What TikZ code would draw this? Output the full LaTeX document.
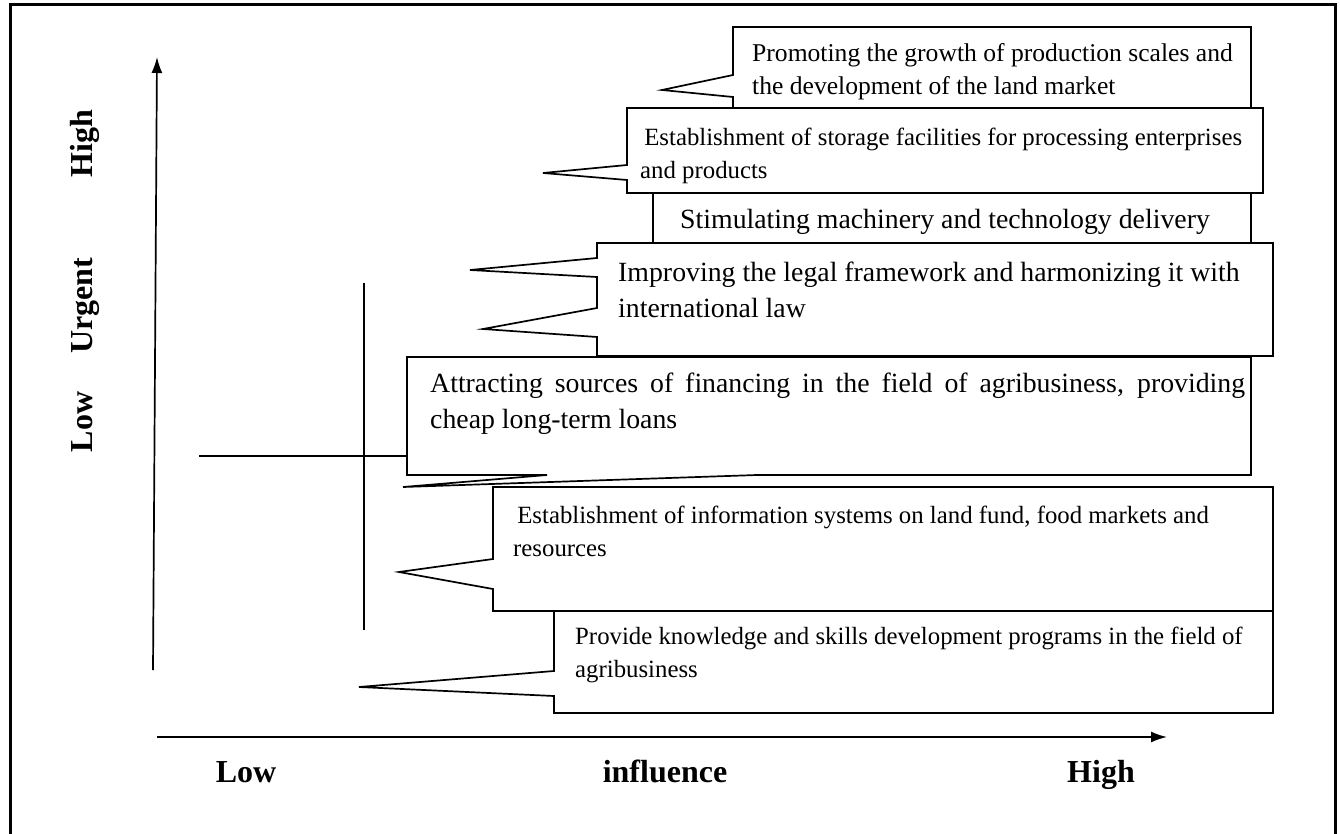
\documentclass[tikz,border=0pt]{standalone}
\usepackage{fontspec}
\setmainfont{Liberation Serif}
\usetikzlibrary{arrows.meta}
\begin{document}
\begin{tikzpicture}[x=1pt,y=-1pt,
  callbox/.style={draw=black, line width=1.7pt, fill=white, line join=miter},
  smalltext/.style={font=\fontsize{24.8}{33}\selectfont, anchor=west, inner sep=0pt, align=left},
  largetext/.style={font=\fontsize{27.8}{36}\selectfont, anchor=west, inner sep=0pt, align=left},
  axislabel/.style={font=\bfseries\fontsize{32}{36}\selectfont, inner sep=0pt, anchor=base},
  axisline/.style={line width=1.7pt, -{Latex[length=16pt,width=11pt]}},
  plainline/.style={line width=1.5pt},
  frameline/.style={line width=3pt}]
\useasboundingbox (0,0) rectangle (1340,834);
% outer frame
\draw[frameline] (10,834) -- (10,5) -- (1335,5) -- (1335,834);

% axes
\coordinate (vstart) at (153,670);
\coordinate (vend) at (157,57);
\coordinate (hstart) at (157,737);
\coordinate (hend) at (1167,737);
\draw[axisline] (vstart) -- (vend);
\draw[axisline] (hstart) -- (hend);

% cross lines
\coordinate (crossTop) at (364,283);
\coordinate (crossBot) at (364,630);
\coordinate (crossLeft) at (199,456);
\coordinate (crossRight) at (407,456);
\draw[plainline] (crossTop) -- (crossBot);
\draw[plainline] (crossLeft) -- (crossRight);

% box 1
\draw[callbox] (733,27) -- (1251,27) -- (1251,150) -- (733,150) -- (733,97) -- (662,90) -- (733,75) -- cycle;
% box 3
\draw[callbox] (653,170) -- (1251,170) -- (1251,260) -- (653,260) -- cycle;
% box 2
\draw[callbox] (627,108) -- (1263,108) -- (1263,193) -- (627,193) -- (627,180) -- (543,173) -- (627,165) -- cycle;
% box 4
\draw[callbox] (597,243) -- (1273,243) -- (1273,356) -- (597,356) -- (597,337) -- (483,329) -- (597,308) -- (597,277) -- (470,270) -- (597,258) -- cycle;
% box 5
\draw[callbox] (407,357) -- (1251,357) -- (1251,475) -- (757,475) -- (403,487) -- (547,475) -- (407,475) -- cycle;
% box 6
\draw[callbox] (493,487) -- (1273,487) -- (1273,611) -- (493,611) -- (493,589) -- (399,572) -- (493,559) -- cycle;
% box 7
\draw[callbox] (554,611) -- (1273,611) -- (1273,713) -- (554,713) -- (554,696) -- (359,687) -- (554,671) -- cycle;

% texts
\node[smalltext, font=\fontsize{25.6}{33}\selectfont] (t1) at (752,72) {Promoting the growth of production scales and\\the development of the land market};
\node[smalltext] (t2) at (640,156) {\,Establishment of storage facilities for processing enterprises\\and products};
\node[largetext] (t3) at (680,222) {Stimulating machinery and technology delivery};
\node[largetext] (t4) at (618,290) {Improving the legal framework and harmonizing it with\\international law};
\node[largetext] (t5) at (430,404) {\makebox[815pt][s]{Attracting sources of financing in the field of agribusiness, providing}\\cheap long-term loans};
\node[smalltext] (t6) at (513,531) {\,Establishment of information systems on land fund, food markets and\\resources};
\node[smalltext] (t7) at (575,655) {Provide knowledge and skills development programs in the field of\\agribusiness};

% axis labels
\node[axislabel] (xlow) at (246,782) {Low};
\node[axislabel] (xmid) at (665,782) {influence};
\node[axislabel] (xhigh) at (1101,782) {High};
\node[axislabel, rotate=90] (ylow) at (92,422) {Low};
\node[axislabel, rotate=90] (yurg) at (92,306) {Urgent};
\node[axislabel, rotate=90] (yhigh) at (92,144) {High};
\end{tikzpicture}
\end{document}
